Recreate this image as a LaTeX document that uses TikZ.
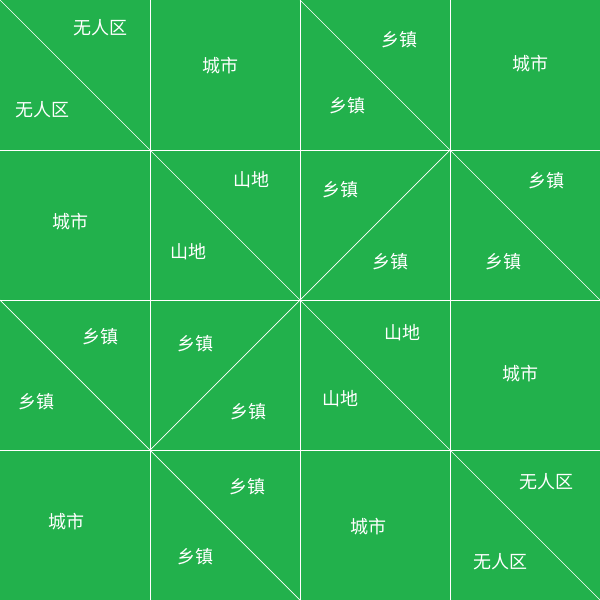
\documentclass[tikz,border=0pt]{standalone}
\usepackage{fontspec}
\newfontfamily\cjk{Noto Sans CJK SC}
\definecolor{paintgreen}{RGB}{34,177,76}
\tikzset{
  lbl/.style={text=white, font=\cjk\fontsize{18}{21}\selectfont, inner sep=0pt},
  gridline/.style={draw=white, line width=1pt},
  diagline/.style={draw=white, line width=0.7pt}
}
\begin{document}
\begin{tikzpicture}[x=1pt,y=-1pt]
\fill[paintgreen] (0,0) rectangle (600,600);
\useasboundingbox (0,0) rectangle (600,600);
% grid
\foreach \v in {150,300,450} {
  \draw[gridline] (\v,0) -- (\v,600);
  \draw[gridline] (0,\v) -- (600,\v);
}
% diagonals
\draw[diagline] (0,0) -- (150,150);
\draw[diagline] (300,0) -- (450,150);
\draw[diagline] (150,150) -- (300,300);
\draw[diagline] (300,300) -- (450,150);
\draw[diagline] (450,150) -- (600,300);
\draw[diagline] (0,300) -- (150,450);
\draw[diagline] (150,450) -- (300,300);
\draw[diagline] (300,300) -- (450,450);
\draw[diagline] (150,450) -- (300,600);
\draw[diagline] (450,450) -- (600,600);
% labels row 0
\node[lbl] (a1) at (100,28) {无人区};
\node[lbl] (a2) at (42,110) {无人区};
\node[lbl] (b1) at (220,66) {城市};
\node[lbl] (c1) at (399,40) {乡镇};
\node[lbl] (c2) at (347,106) {乡镇};
\node[lbl] (d1) at (530,64) {城市};
% row 1
\node[lbl] (e1) at (70,222) {城市};
\node[lbl] (f1) at (251,180) {山地};
\node[lbl] (f2) at (188,252) {山地};
\node[lbl] (g1) at (340,190) {乡镇};
\node[lbl] (g2) at (390,262) {乡镇};
\node[lbl] (h1) at (546,181) {乡镇};
\node[lbl] (h2) at (503,262) {乡镇};
% row 2
\node[lbl] (i1) at (100,337) {乡镇};
\node[lbl] (i2) at (37,402) {乡镇};
\node[lbl] (j1) at (195,344) {乡镇};
\node[lbl] (j2) at (248,412) {乡镇};
\node[lbl] (k1) at (402,333) {山地};
\node[lbl] (k2) at (340,399) {山地};
\node[lbl] (l1) at (520,374) {城市};
% row 3
\node[lbl] (m1) at (66,522) {城市};
\node[lbl] (n1) at (247,487) {乡镇};
\node[lbl] (n2) at (195,557) {乡镇};
\node[lbl] (o1) at (368,527) {城市};
\node[lbl] (p1) at (546,482) {无人区};
\node[lbl] (p2) at (500,562) {无人区};
\end{tikzpicture}
\end{document}
